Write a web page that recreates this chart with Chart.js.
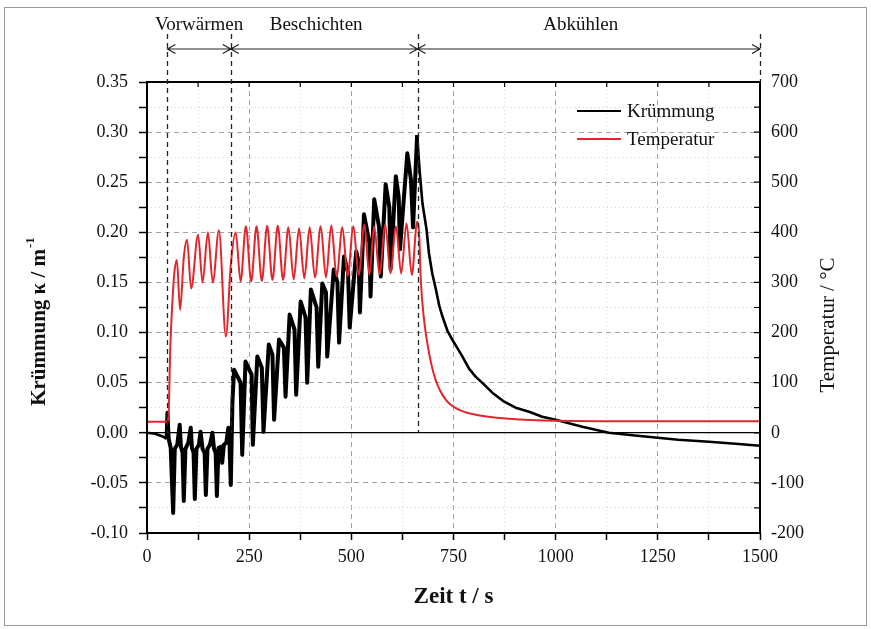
<!DOCTYPE html>
<html>
<head>
<meta charset="utf-8">
<script src="https://cdn.jsdelivr.net/npm/chart.js@4.4.1/dist/chart.umd.min.js"></script>
<style>
  html, body { margin: 0; background: #fff; }
  #wrap { width: 871px; height: 629px; position: relative; }
</style>
</head>
<body>
<div id="wrap"><canvas id="chart"></canvas></div>
<script>
// Krümmung (curvature), time in s, value in 1/m
const krTime = [0, 20, 40, 48, 50, 53, 58, 64, 68, 74, 80, 83, 87, 90, 94, 101, 107, 110, 114, 117,
  121, 127, 131, 136, 141, 144, 148, 154, 160, 164, 168, 171, 175, 181, 184, 188, 194, 199, 202, 205, 209, 213,
  229, 233, 241, 256, 259, 270, 281, 285, 298, 307, 311, 323, 335, 339, 349, 361, 365, 376, 388, 392,
  401, 415, 419, 429, 438, 441, 457, 466, 470, 482, 492, 496, 512, 518, 521, 531, 544, 547, 556, 568,
  572, 584, 593, 596, 609, 616, 619, 637, 646, 651, 661,
  667, 674, 684, 690, 698, 707, 715, 723, 735, 747, 772, 788, 804, 825, 845, 874, 902, 935, 967,
  1000, 1065, 1130, 1200, 1250, 1300, 1375, 1440, 1500];
const krValue = [0, -0.001, -0.004, -0.006, 0.020, -0.006, -0.015, -0.080, -0.016, -0.012, 0.008, -0.014, -0.020, -0.068, -0.016, -0.010, 0.005, -0.015, -0.020, -0.066,
  -0.016, -0.012, 0.001, -0.016, -0.020, -0.062, -0.016, -0.012, 0.000, -0.016, -0.020, -0.063, -0.015, -0.014, -0.030, -0.012, -0.010, 0.005, -0.012, -0.052, 0.030, 0.063,
  0.050, -0.022, 0.071, 0.058, -0.012, 0.076, 0.065, 0.001, 0.088, 0.078, 0.013, 0.093, 0.085, 0.036, 0.118, 0.103, 0.038, 0.131, 0.115, 0.050,
  0.143, 0.125, 0.066, 0.149, 0.140, 0.076, 0.163, 0.150, 0.090, 0.176, 0.160, 0.105, 0.181, 0.170, 0.120, 0.218, 0.190, 0.136, 0.233, 0.205,
  0.156, 0.248, 0.225, 0.163, 0.256, 0.235, 0.183, 0.279, 0.252, 0.205, 0.297,
  0.262, 0.229, 0.203, 0.179, 0.159, 0.143, 0.127, 0.116, 0.102, 0.093, 0.076, 0.064, 0.056, 0.048, 0.040, 0.031, 0.025, 0.021, 0.016,
  0.013, 0.006, 0.000, -0.003, -0.005, -0.007, -0.009, -0.011, -0.013];

// Temperatur, time in s, value in °C
const tpTime = [0, 50, 53, 57, 62, 67, 73, 81, 90, 98, 108, 125, 136, 149, 161, 176, 193, 205, 217, 229,
  242, 255, 268, 281, 294, 307, 320, 333, 346, 359, 372, 385, 398, 411, 425, 438, 451, 464, 478, 491,
  505, 518, 532, 544, 556, 569, 583, 596, 609, 622, 635, 648, 661, 666, 670, 678, 690, 706, 731, 763,
  804, 886, 1000, 1250, 1500];
const tpValue = [22, 22, 40, 170, 259, 320, 345, 245, 350, 385, 288, 395, 300, 400, 300, 404, 192, 335, 400, 302,
  412, 302, 412, 303, 413, 305, 413, 305, 410, 306, 408, 308, 410, 310, 412, 310, 414, 312, 410, 313,
  412, 315, 415, 315, 412, 316, 415, 318, 412, 318, 418, 315, 421, 395, 305, 225, 160, 106, 66, 46,
  36, 28, 24, 23, 23];

// process phases (s)
const phaseBounds = [50, 205, 662, 1500];
const phaseLabels = ['Vorwärmen', 'Beschichten', 'Abkühlen'];

const SERIF = "'Liberation Serif', 'Times New Roman', serif";
Chart.defaults.font.family = SERIF;
Chart.defaults.color = '#111';

const isMajorX = c => c.tick && c.tick.value % 250 === 0;
const isMajorY = c => c.tick && Math.round(c.tick.value * 1000) % 50 === 0;
const isZeroY = c => c.tick && Math.abs(c.tick.value) < 1e-9;

const decor = {
  id: 'decor',
  afterDraw(chart) {
    const { ctx, chartArea: a, scales: { x, y, y2 } } = chart;
    ctx.save();

    // outer picture frame
    ctx.strokeStyle = '#9a9a9a';
    ctx.lineWidth = 1;
    ctx.strokeRect(4.5, 7.5, 862, 618);

    // plot frame
    ctx.strokeStyle = '#000';
    ctx.lineWidth = 2;
    ctx.strokeRect(a.left, a.top, a.right - a.left, a.bottom - a.top);

    // inward ticks on top and right
    ctx.lineWidth = 1.2;
    ctx.beginPath();
    x.ticks.forEach(t => {
      const px = x.getPixelForValue(t.value);
      ctx.moveTo(px, a.top); ctx.lineTo(px, a.top + 5);
    });
    y2.ticks.forEach(t => {
      const py = y2.getPixelForValue(t.value);
      ctx.moveTo(a.right, py); ctx.lineTo(a.right - 6, py);
    });
    ctx.stroke();

    // phase markers
    const y0 = y.getPixelForValue(0);
    const arrowY = 49;
    ctx.strokeStyle = '#222';
    ctx.lineWidth = 1.3;
    ctx.setLineDash([5, 4]);
    phaseBounds.forEach((t, i) => {
      const px = Math.round(x.getPixelForValue(t)) + 0.5;
      ctx.beginPath();
      ctx.moveTo(px, 34);
      ctx.lineTo(px, i === phaseBounds.length - 1 ? a.top : y0);
      ctx.stroke();
    });
    ctx.setLineDash([]);
    ctx.lineWidth = 1.2;
    ctx.font = `19px ${SERIF}`;
    ctx.fillStyle = '#111';
    ctx.textAlign = 'center';
    ctx.textBaseline = 'middle';
    phaseLabels.forEach((lab, i) => {
      const l = x.getPixelForValue(phaseBounds[i]);
      const r = x.getPixelForValue(phaseBounds[i + 1]);
      ctx.beginPath();
      ctx.moveTo(l, arrowY); ctx.lineTo(r, arrowY);
      ctx.moveTo(l + 8, arrowY - 4.5); ctx.lineTo(l, arrowY); ctx.lineTo(l + 8, arrowY + 4.5);
      ctx.moveTo(r - 8, arrowY - 4.5); ctx.lineTo(r, arrowY); ctx.lineTo(r - 8, arrowY + 4.5);
      ctx.stroke();
      ctx.fillText(lab, (l + r) / 2 - (i ? 8 : 0), 25);
    });

    // legend
    ctx.textAlign = 'left';
    chart.data.datasets.forEach((ds, i) => {
      const ly = 111 + i * 28;
      ctx.strokeStyle = ds.borderColor;
      ctx.lineWidth = 2;
      ctx.beginPath(); ctx.moveTo(577, ly); ctx.lineTo(621, ly); ctx.stroke();
      ctx.fillText(ds.label, 627, ly + 1);
    });

    // axis titles
    ctx.textAlign = 'center';
    ctx.font = `bold 23px ${SERIF}`;
    ctx.fillText('Zeit t / s', (a.left + a.right) / 2, 597);

    ctx.save();
    ctx.translate(40, 322);
    ctx.rotate(-Math.PI / 2);
    ctx.textAlign = 'left';
    ctx.font = `bold 21px ${SERIF}`;
    const main = 'Krümmung κ / m';
    const w1 = ctx.measureText(main).width;
    ctx.font = `bold 13px ${SERIF}`;
    const w2 = ctx.measureText('-1').width;
    const sx = -(w1 + w2) / 2;
    ctx.font = `bold 21px ${SERIF}`;
    ctx.fillText(main, sx, 0);
    ctx.font = `bold 13px ${SERIF}`;
    ctx.fillText('-1', sx + w1 + 1, -9);
    ctx.restore();

    ctx.save();
    ctx.translate(828, 325);
    ctx.rotate(-Math.PI / 2);
    ctx.font = `21px ${SERIF}`;
    ctx.fillText('Temperatur / °C', 0, 0);
    ctx.restore();

    ctx.restore();
  }
};

// thicker, noisier trace while the process is running
const inProcess = c => c.p0.parsed.x >= phaseBounds[0] - 2 && c.p1.parsed.x <= phaseBounds[2];

new Chart(document.getElementById('chart'), {
  type: 'line',
  data: {
    datasets: [
      {
        label: 'Krümmung',
        data: krTime.map((t, i) => ({ x: t, y: krValue[i] })),
        yAxisID: 'y',
        borderColor: '#000',
        borderWidth: 2.6,
        borderJoinStyle: 'round',
        segment: { borderWidth: c => (inProcess(c) ? 4 : 2.6) },
        pointRadius: 0,
        tension: 0,
        order: 2
      },
      {
        label: 'Temperatur',
        data: tpTime.map((t, i) => ({ x: t, y: tpValue[i] })),
        yAxisID: 'y2',
        borderColor: '#e1262d',
        borderWidth: 2,
        pointRadius: 0,
        cubicInterpolationMode: 'monotone',
        order: 1
      }
    ]
  },
  options: {
    responsive: true,
    maintainAspectRatio: false,
    animation: false,
    layout: { padding: { top: 82 } },
    plugins: { legend: { display: false }, tooltip: { enabled: false } },
    scales: {
      x: {
        type: 'linear', min: 0, max: 1500,
        afterFit: s => { s.height = 96; },
        ticks: {
          stepSize: 125, autoSkip: false, maxRotation: 0, padding: 6,
          font: { size: 18 }, color: '#111',
          callback: v => (v % 250 === 0 ? String(v) : '')
        },
        grid: {
          color: c => (isMajorX(c) ? '#a3a3a3' : '#d4d4d4'),
          lineWidth: 1, tickLength: 7, tickColor: '#000', tickWidth: 1.5, tickBorderDash: []
        },
        border: { display: false, dash: c => (isMajorX(c) ? [5, 4] : [1, 3]) }
      },
      y: {
        type: 'linear', position: 'left', min: -0.10, max: 0.35,
        afterFit: s => { s.width = 147; },
        ticks: {
          stepSize: 0.025, autoSkip: false, padding: 11,
          font: { size: 18 }, color: '#111',
          callback: v => {
            if (Math.round(v * 1000) % 50 !== 0) return '';
            return Math.abs(v) < 1e-9 ? '0.00' : v.toFixed(2);
          }
        },
        grid: {
          color: c => (isZeroY(c) ? '#000' : isMajorY(c) ? '#a3a3a3' : '#d4d4d4'),
          lineWidth: c => (isZeroY(c) ? 1.3 : 1),
          tickLength: 8, tickColor: '#000', tickWidth: 1.5, tickBorderDash: []
        },
        border: { display: false, dash: c => (isZeroY(c) ? [] : isMajorY(c) ? [5, 4] : [1, 3]) }
      },
      y2: {
        type: 'linear', position: 'right', min: -200, max: 700,
        afterFit: s => { s.width = 111; },
        ticks: {
          stepSize: 50, autoSkip: false, padding: 11,
          font: { size: 18 }, color: '#111',
          callback: v => (v % 100 === 0 ? String(v) : '')
        },
        grid: { drawOnChartArea: false, drawTicks: false },
        border: { display: false }
      }
    }
  },
  plugins: [decor]
});
</script>
</body>
</html>
